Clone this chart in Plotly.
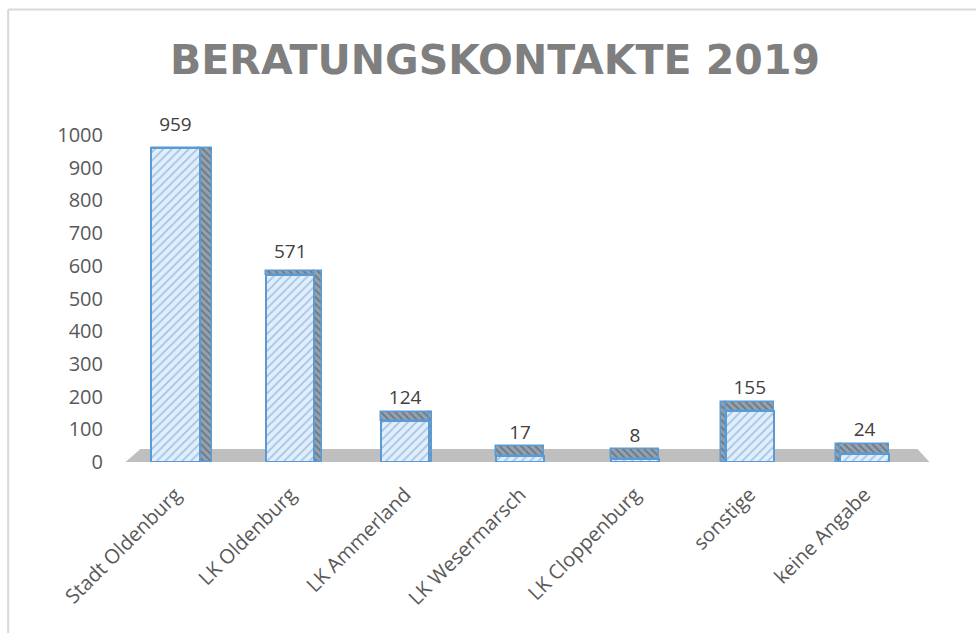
import plotly.graph_objects as go

categories = ["Stadt Oldenburg", "LK Oldenburg", "LK Ammerland", "LK Wesermarsch",
              "LK Cloppenburg", "sonstige", "keine Angabe"]
values = [959, 571, 124, 17, 8, 155, 24]
y_ticks = [0, 100, 200, 300, 400, 500, 600, 700, 800, 900, 1000]

# style (perspective imitation)
FRONT_W = 0.42
side_w = [0.11, 0.075, 0.03, 0.0, 0.0, 0.045, 0.04]
side_right = [True, True, True, True, True, False, False]
top_depth = [max(0.0, 32 * (1 - v / 1000)) for v in values]
label_pad = [8 + 30 * v / 1000 for v in values]

W, H = 976, 633
ML, MR, MT, MB = 117.5, 53.5, 135, 171
PW, PH = W - ML - MR, H - MT - MB

def px(xp):
    return (xp - ML) / PW

def py(yp):
    return (H - MB - yp) / PH

front_pat = dict(shape="/", fgcolor="#5b9bd5", bgcolor="#e3eefa", size=6, solidity=0.3)
dark_pat = dict(shape="\\", fgcolor="#3f4f60", bgcolor="#95a2ae", size=5, solidity=0.35)
edge = dict(color="#5b9bd5", width=2)

fig = go.Figure()

# side faces
sx, sy, so, sw = [], [], [], []
for c, v, w, r, t in zip(categories, values, side_w, side_right, top_depth):
    if w <= 0:
        continue
    sx.append(c)
    sy.append(v + t)
    sw.append(w)
    so.append(FRONT_W / 2 - 0.005 if r else -FRONT_W / 2 - w + 0.005)
fig.add_trace(go.Bar(x=sx, y=sy, width=sw, offset=so,
                     marker=dict(pattern=dark_pat, line=dict(color="#5b9bd5", width=1.5)),
                     hoverinfo="skip", showlegend=False))

# top faces
fig.add_trace(go.Bar(x=categories, y=top_depth, base=values,
                     width=FRONT_W, offset=-FRONT_W / 2,
                     marker=dict(pattern=dark_pat, line=dict(color="#5b9bd5", width=1.5)),
                     hoverinfo="skip", showlegend=False))

# front faces
fig.add_trace(go.Bar(x=categories, y=values, width=FRONT_W, offset=-FRONT_W / 2,
                     marker=dict(pattern=front_pat, line=edge),
                     showlegend=False))

# data labels
fig.add_trace(go.Scatter(x=categories, y=[v + t + p for v, t, p in zip(values, top_depth, label_pad)],
                         mode="text", text=[str(v) for v in values],
                         textposition="top center",
                         textfont=dict(family="Open Sans", size=19, color="#404040"),
                         cliponaxis=False, hoverinfo="skip", showlegend=False))

shapes = [
    # floor
    dict(type="path", xref="paper", yref="paper", layer="below",
         path=f"M {px(125)} {py(462)} L {px(140)} {py(449)} L {px(918)} {py(449)} L {px(930)} {py(462)} Z",
         fillcolor="#bfbfbf", line=dict(width=0)),
    # chart border
    dict(type="line", xref="paper", yref="paper", x0=px(7.5), x1=px(1000), y0=py(9.5), y1=py(9.5),
         line=dict(color="#d9d9d9", width=2)),
    dict(type="line", xref="paper", yref="paper", x0=px(7.5), x1=px(7.5), y0=py(9.5), y1=py(660),
         line=dict(color="#d9d9d9", width=2)),
]

fig.update_layout(
    width=W, height=H,
    margin=dict(l=ML, r=MR, t=MT, b=MB, pad=0),
    paper_bgcolor="white", plot_bgcolor="white",
    barmode="overlay",
    title=dict(text="<b>BERATUNGSKONTAKTE 2019</b>", x=495 / W, xanchor="center",
               y=1 - 60 / H, yanchor="middle", yref="container",
               font=dict(family="DejaVu Sans", size=41, color="#7f7f7f")),
    xaxis=dict(tickangle=-45, showgrid=False, showline=False, zeroline=False,
               categoryorder="array", categoryarray=categories,
               ticks="", tickfont=dict(family="Open Sans", size=20, color="#595959"),
               ticklabelstandoff=16, range=[-0.5, 6.5]),
    yaxis=dict(range=[0, 1000], tickvals=y_ticks, showgrid=False, showline=False,
               zeroline=False, ticks="", ticklabelstandoff=14,
               tickfont=dict(family="Open Sans", size=20, color="#595959")),
    shapes=shapes,
    bargap=0,
)

fig.write_html("out.html", config={"displayModeBar": False},
               post_script="document.body.style.margin='0';document.body.style.overflow='hidden';")
